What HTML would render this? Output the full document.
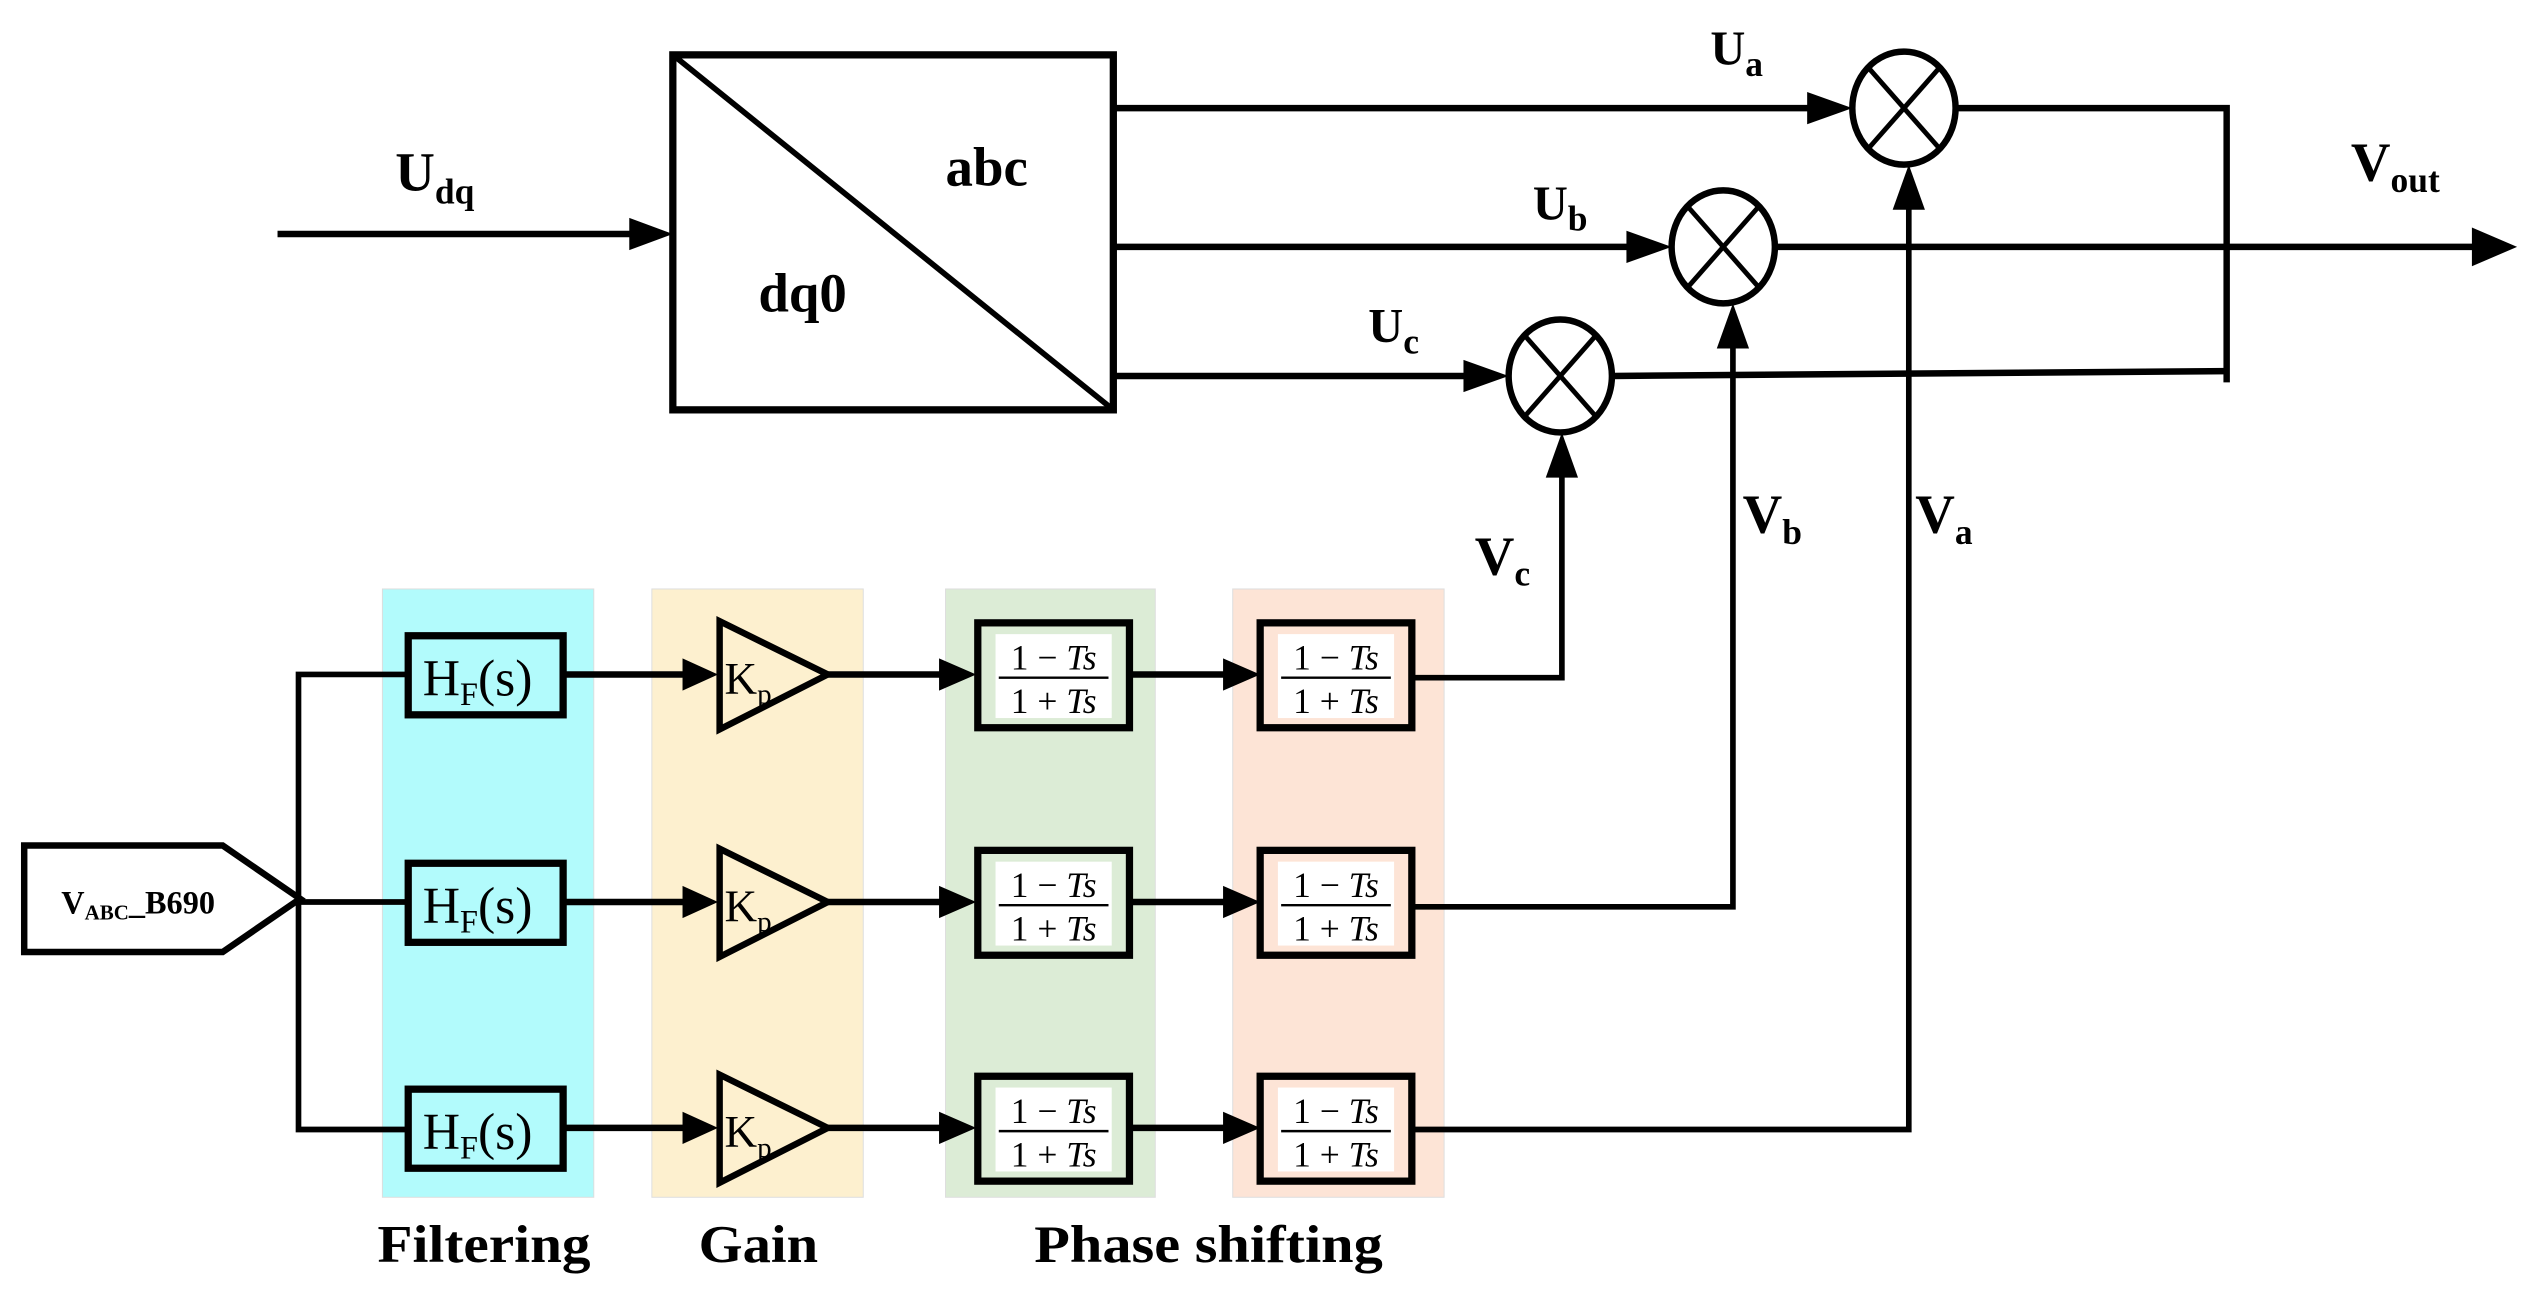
<!DOCTYPE html>
<html><head><style>html,body{margin:0;padding:0;background:#fff}svg{display:block}</style></head>
<body>
<svg width="2530" height="1297" viewBox="0 0 1568 803.8" preserveAspectRatio="none" xmlns="http://www.w3.org/2000/svg">
<g font-family="Liberation Serif, serif" font-weight="bold">
<rect x="237" y="365" width="131" height="377" fill="#b2fbfc" stroke="#ddd" stroke-width="0.6"/>
<rect x="404" y="365" width="131" height="377" fill="#fdf0cf" stroke="#ddd" stroke-width="0.6"/>
<rect x="586" y="365" width="130" height="377" fill="#dcecd6" stroke="#ddd" stroke-width="0.6"/>
<rect x="764" y="365" width="131" height="377" fill="#fde4d6" stroke="#ddd" stroke-width="0.6"/>

<g stroke="#000" stroke-width="4" fill="none">
<line x1="172" y1="145" x2="400" y2="145"/>
<rect x="417" y="34" width="273" height="220" stroke-width="4.5"/>
<line x1="417" y1="34" x2="690" y2="254" stroke-width="3.5"/>
<line x1="690" y1="67" x2="1132" y2="67"/>
<line x1="690" y1="153" x2="1020" y2="153"/>
<line x1="690" y1="233" x2="918" y2="233"/>
<ellipse cx="1180" cy="67" rx="32" ry="35"/>
<ellipse cx="1068" cy="153" rx="32" ry="35"/>
<ellipse cx="967" cy="233" rx="32" ry="35"/>
<g stroke-width="3">
<line x1="1158" y1="42" x2="1202" y2="92"/><line x1="1202" y1="42" x2="1158" y2="92"/>
<line x1="1046" y1="128" x2="1090" y2="178"/><line x1="1090" y1="128" x2="1046" y2="178"/>
<line x1="945" y1="208" x2="989" y2="258"/><line x1="989" y1="208" x2="945" y2="258"/>
</g>
<polyline points="1212,67 1380,67 1380,237"/>
<line x1="999" y1="233" x2="1380" y2="230"/>
<line x1="1100" y1="153" x2="1540" y2="153"/>
<polyline points="876,420 968,420 968,290" stroke-width="3.5"/>
<polyline points="876,562 1074,562 1074,210" stroke-width="3.5"/>
<polyline points="876,700 1183,700 1183,124" stroke-width="3.5"/>
<polygon points="15,524 138,524 186,557 138,590 15,590" fill="#fff"/>
<polyline points="252,418 185,418 185,700 252,700" stroke-width="3.5"/>
<line x1="186" y1="559" x2="252" y2="559" stroke-width="3.5"/>
</g>
<g fill="#000">
<polygon points="417,145 390,135 390,155"/>
<polygon points="1148,67 1120,57 1120,77"/>
<polygon points="1036,153 1008,143 1008,163"/>
<polygon points="935,233 907,223 907,243"/>
<polygon points="1560,153 1532,141 1532,165"/>
<polygon points="968,268 958,296 978,296"/>
<polygon points="1074,188 1064,216 1084,216"/>
<polygon points="1183,102 1173,130 1193,130"/>
</g>
<text x="245" y="118" font-size="34">U<tspan font-size="22" dy="8">dq</tspan></text>
<text x="586" y="115" font-size="34">abc</text>
<text x="470" y="193" font-size="34">dq0</text>
<text x="1060" y="40" font-size="30">U<tspan font-size="22" dy="7">a</tspan></text>
<text x="950" y="136" font-size="30">U<tspan font-size="22" dy="7">b</tspan></text>
<text x="848" y="212" font-size="30">U<tspan font-size="22" dy="7">c</tspan></text>
<text x="1457" y="112" font-size="34">V<tspan font-size="22" dy="7">out</tspan></text>
<text x="914" y="356" font-size="34">V<tspan font-size="22" dy="7">c</tspan></text>
<text x="1080" y="330" font-size="34">V<tspan font-size="22" dy="7">b</tspan></text>
<text x="1187" y="330" font-size="34">V<tspan font-size="22" dy="7">a</tspan></text>
<text x="38" y="566" font-size="20">V<tspan font-size="13" dy="4">ABC</tspan><tspan dy="-4">_B690</tspan></text>
<text x="234" y="782" font-size="33" textLength="132" lengthAdjust="spacingAndGlyphs">Filtering</text>
<text x="433" y="782" font-size="33" textLength="74" lengthAdjust="spacingAndGlyphs">Gain</text>
<text x="641" y="782" font-size="33" textLength="216" lengthAdjust="spacingAndGlyphs">Phase shifting</text>
</g>

<g font-family="Liberation Serif, serif">
<g id="r1">
<rect x="253" y="394" width="96" height="49" fill="#b2fbfc" stroke="#000" stroke-width="4.5"/>
<text x="262" y="431" font-size="32">H<tspan font-size="20" dy="6">F</tspan><tspan dy="-6">(s)</tspan></text>
<line x1="349" y1="418" x2="430" y2="418" stroke="#000" stroke-width="4"/>
<polygon points="445,418 423,408 423,428"/>
<polygon points="446,385 446,452 513,418" fill="none" stroke="#000" stroke-width="4"/>
<text x="449" y="430" font-size="28">K<tspan font-size="18" dy="6">p</tspan></text>
<line x1="513" y1="418" x2="590" y2="418" stroke="#000" stroke-width="4"/>
<polygon points="605,418 582,408 582,428"/>
<rect x="606" y="386" width="94" height="65" fill="#dcecd6" stroke="#000" stroke-width="4.5"/>
<rect x="617" y="393" width="72" height="52" fill="#fff"/>
<text x="653" y="415" font-size="22" text-anchor="middle">1 − <tspan font-style="italic">Ts</tspan></text>
<line x1="619" y1="420" x2="687" y2="420" stroke="#000" stroke-width="1.5"/>
<text x="653" y="442" font-size="22" text-anchor="middle">1 + <tspan font-style="italic">Ts</tspan></text>
<line x1="700" y1="418" x2="766" y2="418" stroke="#000" stroke-width="4"/>
<polygon points="781,418 758,408 758,428"/>
<rect x="781" y="386" width="94" height="65" fill="#fde4d6" stroke="#000" stroke-width="4.5"/>
<rect x="792" y="393" width="72" height="52" fill="#fff"/>
<text x="828" y="415" font-size="22" text-anchor="middle">1 − <tspan font-style="italic">Ts</tspan></text>
<line x1="794" y1="420" x2="862" y2="420" stroke="#000" stroke-width="1.5"/>
<text x="828" y="442" font-size="22" text-anchor="middle">1 + <tspan font-style="italic">Ts</tspan></text>
</g>
<use href="#r1" transform="translate(0,141)"/>
<use href="#r1" transform="translate(0,281)"/>
</g>
</svg>
</body></html>
